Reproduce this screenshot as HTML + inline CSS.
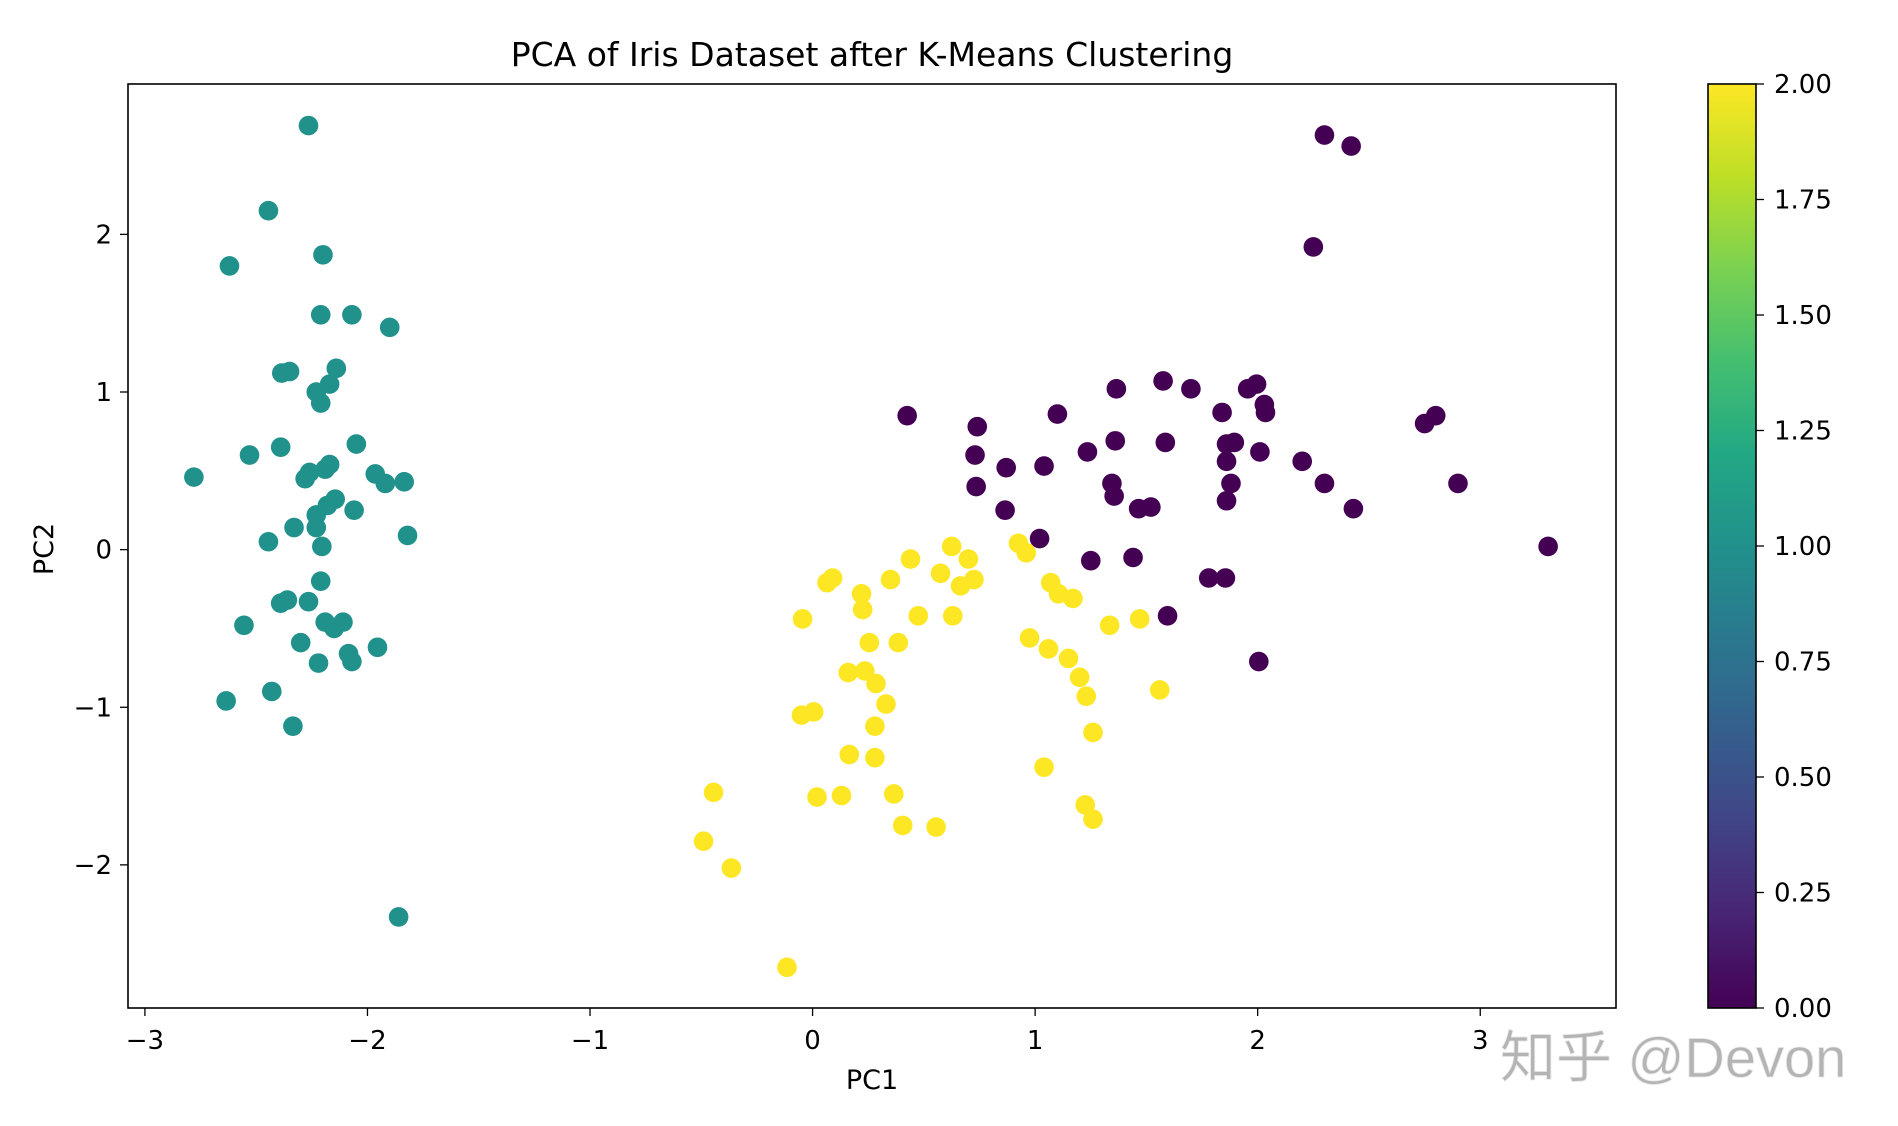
<!DOCTYPE html>
<html><head><meta charset="utf-8">
<style>
html,body{margin:0;padding:0;background:#fff;}
svg{display:block;font-family:"DejaVu Sans","Liberation Sans",sans-serif;}
</style></head>
<body>
<svg id="chart" width="1898" height="1126" viewBox="0 0 1898 1126" xmlns="http://www.w3.org/2000/svg">
<defs>
<linearGradient id="viridis" x1="0" y1="1" x2="0" y2="0">
<stop offset="0" stop-color="#440154"/><stop offset="0.1" stop-color="#482475"/>
<stop offset="0.2" stop-color="#414487"/><stop offset="0.3" stop-color="#355f8d"/>
<stop offset="0.4" stop-color="#2a788e"/><stop offset="0.5" stop-color="#21918c"/>
<stop offset="0.6" stop-color="#22a884"/><stop offset="0.7" stop-color="#44bf70"/>
<stop offset="0.8" stop-color="#7ad151"/><stop offset="0.9" stop-color="#bddf26"/>
<stop offset="1" stop-color="#fde725"/>
</linearGradient>
</defs>
<text x="872" y="66" text-anchor="middle" font-size="33" fill="#000">PCA of Iris Dataset after K-Means Clustering</text>
<g id="points"></g>
<rect x="128" y="84" width="1488" height="924" fill="none" stroke="#000" stroke-width="1.6"/>
<g id="xticks"></g>
<g id="yticks"></g>
<text x="872" y="1089" text-anchor="middle" font-size="27">PC1</text>
<text transform="translate(53,549) rotate(-90)" text-anchor="middle" font-size="27">PC2</text>
<rect x="1708" y="84" width="48" height="924" fill="url(#viridis)" stroke="#000" stroke-width="1.6"/>
<g id="cbticks"></g>
<text x="1500" y="1077" font-size="56" fill="#b4b4b4" stroke="#e6e6e6" stroke-width="0.8" font-family="'Liberation Sans','Noto Sans CJK SC',sans-serif">知乎 @Devon</text>
</svg>
<script>
const cluster0X=[2.30,2.42,2.25,0.425,0.74,0.73,0.735,0.87,0.865,1.04,1.10,1.02,1.235,1.25,1.365,1.36,1.345,1.355,1.465,1.52,1.44,1.575,1.585,1.70,1.595,1.78,1.855,1.84,1.86,1.895,1.86,1.88,1.86,1.955,1.995,2.03,2.035,2.01,2.005,2.20,2.30,2.43,2.75,2.80,2.90,3.305];
const cluster0Y=[2.63,2.56,1.92,0.85,0.78,0.60,0.40,0.52,0.25,0.53,0.86,0.07,0.62,-0.07,1.02,0.69,0.42,0.34,0.26,0.27,-0.05,1.07,0.68,1.02,-0.42,-0.18,-0.18,0.87,0.67,0.68,0.56,0.42,0.31,1.02,1.05,0.92,0.87,0.62,-0.71,0.56,0.42,0.26,0.80,0.85,0.42,0.02];
const cluster1X=[-2.265,-2.445,-2.62,-2.20,-2.21,-2.07,-1.90,-2.385,-2.35,-2.14,-2.23,-2.17,-2.21,-2.78,-2.53,-2.39,-2.05,-2.28,-2.26,-2.19,-2.17,-1.965,-1.92,-1.835,-2.145,-2.18,-2.06,-2.23,-2.33,-2.23,-2.445,-1.82,-2.205,-2.21,-2.39,-2.36,-2.265,-2.555,-2.19,-2.11,-2.15,-2.30,-1.955,-2.085,-2.07,-2.22,-2.635,-2.43,-2.335,-1.86];
const cluster1Y=[2.69,2.15,1.80,1.87,1.49,1.49,1.41,1.12,1.13,1.15,1.00,1.05,0.93,0.46,0.60,0.65,0.67,0.45,0.49,0.51,0.54,0.48,0.42,0.43,0.32,0.28,0.25,0.22,0.14,0.14,0.05,0.09,0.02,-0.20,-0.34,-0.32,-0.33,-0.48,-0.46,-0.46,-0.50,-0.59,-0.62,-0.66,-0.71,-0.72,-0.96,-0.90,-1.12,-2.33];
const cluster2X=[-0.045,0.065,0.09,0.22,0.225,0.255,0.16,0.235,0.285,0.33,0.28,0.28,0.165,-0.05,0.005,0.02,0.13,0.365,0.405,0.555,-0.445,-0.49,-0.365,-0.115,0.35,0.385,0.44,0.475,0.575,0.625,0.70,0.665,0.725,0.63,0.925,0.96,0.975,1.06,1.07,1.105,1.17,1.15,1.2,1.23,1.26,1.04,1.225,1.26,1.335,1.47,1.56];
const cluster2Y=[-0.44,-0.21,-0.18,-0.28,-0.38,-0.59,-0.78,-0.77,-0.85,-0.98,-1.12,-1.32,-1.30,-1.05,-1.03,-1.57,-1.56,-1.55,-1.75,-1.76,-1.54,-1.85,-2.02,-2.65,-0.19,-0.59,-0.06,-0.42,-0.15,0.02,-0.06,-0.23,-0.19,-0.42,0.04,-0.02,-0.56,-0.63,-0.21,-0.28,-0.31,-0.69,-0.81,-0.93,-1.16,-1.38,-1.62,-1.71,-0.48,-0.44,-0.89];
const xTicks=[-3,-2,-1,0,1,2,3];
const yTicks=[-2,-1,0,1,2];
const cbTicks=[0,0.25,0.5,0.75,1,1.25,1.5,1.75,2];

const X0=128,X1=1616,Y0=84,Y1=1008;
const xMin=-3.076,xMax=3.61,yMin=-2.908,yMax=2.954;
const sx=v=>X0+(v-xMin)/(xMax-xMin)*(X1-X0);
const sy=v=>Y1-(v-yMin)/(yMax-yMin)*(Y1-Y0);
const cb=v=>1008-v/2*924;
const NS="http://www.w3.org/2000/svg";
function mk(tag,attrs,parent){const e=document.createElementNS(NS,tag);for(const k in attrs)e.setAttribute(k,attrs[k]);parent.appendChild(e);return e;}
const pts=document.getElementById('points');
[[cluster0X,cluster0Y,'#440154',0],[cluster1X,cluster1Y,'#21918c',1],[cluster2X,cluster2Y,'#fde725',2]].forEach(([xs,ys,col,k])=>{
  xs.forEach((x,i)=>{
    const c=mk('circle',{cx:sx(x),cy:sy(ys[i]),r:9.8,fill:col},pts);
    
    
  });
});
const xg=document.getElementById('xticks');
xTicks.forEach(t=>{
  const l=mk('line',{x1:sx(t),x2:sx(t),y1:1008,y2:1016,stroke:'#000','stroke-width':1.3},xg);
  
  
  const tx=mk('text',{x:sx(t),y:1049,'text-anchor':'middle','font-size':26},xg);
  tx.textContent=(t<0?'\u2212'+(-t):String(t));
  
  
});
const yg=document.getElementById('yticks');
yTicks.forEach(t=>{
  const l=mk('line',{x1:120,x2:128,y1:sy(t),y2:sy(t),stroke:'#000','stroke-width':1.3},yg);
  
  
  const tx=mk('text',{x:112,y:sy(t)+9,'text-anchor':'end','font-size':26},yg);
  tx.textContent=(t<0?'\u2212'+(-t):String(t));
  
  
});
const cg=document.getElementById('cbticks');
cbTicks.forEach(t=>{
  const l=mk('line',{x1:1756,x2:1764,y1:cb(t),y2:cb(t),stroke:'#000','stroke-width':1.3},cg);
  
  
  const tx=mk('text',{x:1774,y:cb(t)+9,'font-size':26},cg);
  tx.textContent=t.toFixed(2);
  
  
});
</script>
</body></html>
